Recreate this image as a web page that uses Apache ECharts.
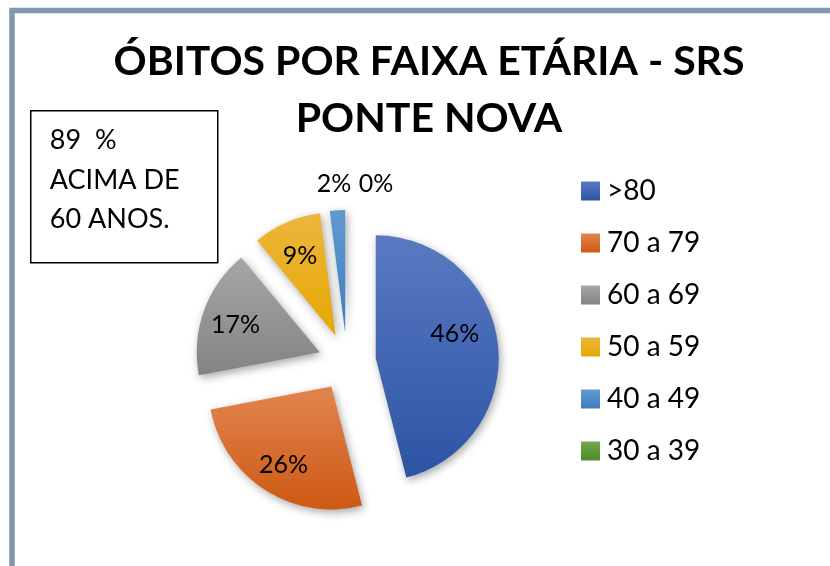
<!DOCTYPE html>
<html>
<head>
<meta charset="utf-8">
<script src="https://cdn.jsdelivr.net/npm/echarts@6/dist/echarts.min.js"></script>
<style>
  html, body { margin: 0; padding: 0; background: #fff; }
  #chart { width: 830px; height: 566px; }
</style>
</head>
<body>
<div id="chart"></div>
<script>
// faixas etárias e percentuais de óbitos
var categories = ['>80', '70 a 79', '60 a 69', '50 a 59', '40 a 49', '30 a 39'];
var values = [46, 26, 17, 9, 2, 0];
var noteLines = ['89  %', 'ACIMA DE', '60 ANOS.'];

// cores (topo / base do degradê)
var topColors = ['#5a79c2', '#e2844f', '#a6a6a6', '#edb63d', '#6399cf', '#72aa4c'];
var bottomColors = ['#2c54a4', '#cd5914', '#838383', '#e6a700', '#3a7ebf', '#4f8a2c'];

var FONT = 'Lato, "Open Sans", sans-serif';
var CX = 347, CY = 362;

// deslocamento manual de alguns rótulos (fatias pequenas vão para cima do gráfico)
var labelShift = { 0: [15, -16], 4: [-7, -85], 5: [29, -85] };

var pieData = categories.map(function (name, i) {
  return {
    name: name,
    value: values[i],
    selected: true,
    itemStyle: {
      color: {
        type: 'linear', x: 0, y: 0, x2: 0, y2: 1,
        colorStops: [
          { offset: 0, color: topColors[i] },
          { offset: 1, color: bottomColors[i] }
        ]
      }
    }
  };
});

var chart = echarts.init(document.getElementById('chart'));
chart.setOption({
  animation: false,
  backgroundColor: '#fff',
  title: {
    text: 'ÓBITOS POR FAIXA ETÁRIA - SRS\nPONTE NOVA',
    left: 429,
    top: 33,
    padding: 0,
    textAlign: 'center',
    textStyle: {
      fontFamily: FONT,
      fontWeight: 'bold',
      fontSize: 41,
      lineHeight: 57,
      color: '#000'
    }
  },
  legend: {
    orient: 'vertical',
    left: 576,
    top: 171,
    icon: 'rect',
    itemWidth: 19,
    itemHeight: 19,
    itemGap: 22,
    data: categories,
    selectedMode: false,
    textStyle: {
      fontFamily: FONT,
      fontSize: 28,
      lineHeight: 30,
      color: '#000',
      padding: [0, 0, 0, 2]
    }
  },
  graphic: [
    {
      // moldura do gráfico
      type: 'rect',
      silent: true,
      shape: { x: 12, y: 10.5, width: 900, height: 700 },
      style: { fill: 'none', stroke: '#8497b0', lineWidth: 5.5 }
    },
    {
      type: 'group',
      left: 30,
      top: 110,
      children: [
        {
          type: 'rect',
          shape: { x: 0, y: 0, width: 187, height: 152 },
          style: { fill: '#fff', stroke: '#000', lineWidth: 1.5 }
        },
        {
          type: 'text',
          x: 19,
          y: 10,
          style: {
            text: noteLines.join('\n'),
            font: '27px ' + FONT,
            lineHeight: 39.5,
            fill: '#000'
          }
        }
      ]
    }
  ],
  series: [
    {
      type: 'pie',
      center: [CX, CY],
      radius: [0, 123],
      startAngle: 90,
      selectedMode: 'multiple',
      selectedOffset: 29,
      avoidLabelOverlap: false,
      data: pieData,
      itemStyle: {
        shadowBlur: 8,
        shadowOffsetX: 2,
        shadowOffsetY: 3,
        shadowColor: 'rgba(0,0,0,0.35)'
      },
      label: {
        show: true,
        position: 'inside',
        fontFamily: FONT,
        fontSize: 25,
        color: '#000',
        formatter: function (p) { return Math.round(p.percent) + '%'; }
      },
      labelLine: { show: false },
      emphasis: { disabled: true },
      select: { itemStyle: { borderWidth: 0 } },
      labelLayout: function (p) {
        var s = labelShift[p.dataIndex];
        if (s) {
          return { dx: s[0], dy: s[1] };
        }
        // empurra os rótulos internos para fora (como no Excel)
        var r = p.labelRect;
        var vx = r.x + r.width / 2 - CX;
        var vy = r.y + r.height / 2 - CY;
        var len = Math.sqrt(vx * vx + vy * vy) || 1;
        return { dx: 25 * vx / len, dy: 25 * vy / len + 3 };
      }
    }
  ]
});
</script>
</body>
</html>
